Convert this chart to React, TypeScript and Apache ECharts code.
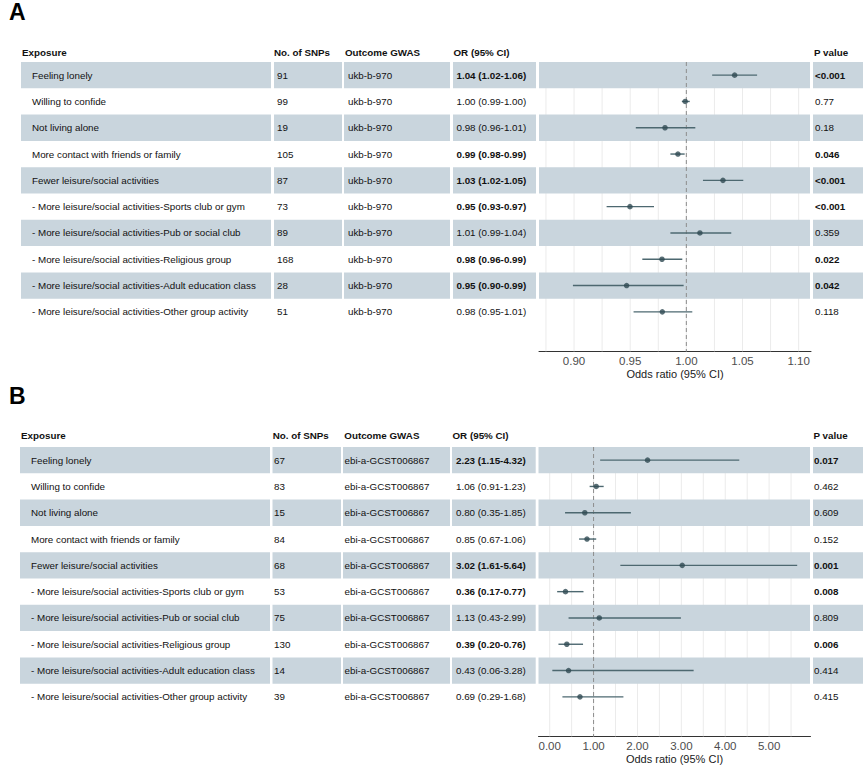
import React, { useEffect, useRef } from "react";
import * as echarts from "echarts";

// ---------- data ----------
const exposures = [
  "Feeling lonely",
  "Willing to confide",
  "Not living alone",
  "More contact with friends or family",
  "Fewer leisure/social activities",
  "- More leisure/social activities-Sports club or gym",
  "- More leisure/social activities-Pub or social club",
  "- More leisure/social activities-Religious group",
  "- More leisure/social activities-Adult education class",
  "- More leisure/social activities-Other group activity",
];

// Panel A
const snpsA = [91, 99, 19, 105, 87, 73, 89, 168, 28, 51];
const gwasA = "ukb-b-970";
const orLabelsA = [
  "1.04 (1.02-1.06)",
  "1.00 (0.99-1.00)",
  "0.98 (0.96-1.01)",
  "0.99 (0.98-0.99)",
  "1.03 (1.02-1.05)",
  "0.95 (0.93-0.97)",
  "1.01 (0.99-1.04)",
  "0.98 (0.96-0.99)",
  "0.95 (0.90-0.99)",
  "0.98 (0.95-1.01)",
];
const pLabelsA = ["<0.001", "0.77", "0.18", "0.046", "<0.001", "<0.001", "0.359", "0.022", "0.042", "0.118"];
const orA = [1.043, 0.999, 0.981, 0.9925, 1.0326, 0.9498, 1.0121, 0.9783, 0.9468, 0.9786];
const loA = [1.023, 0.996, 0.955, 0.9858, 1.0148, 0.929, 0.9858, 0.9608, 0.899, 0.953];
const hiA = [1.063, 1.003, 1.008, 0.9985, 1.0507, 0.9712, 1.04, 0.9964, 0.9976, 1.0053];
const ticksA = [0.9, 0.95, 1.0, 1.05, 1.1];
const gridLinesA = [0.875, 0.9, 0.925, 0.95, 0.975, 1.0, 1.025, 1.05, 1.075, 1.1];

// Panel B
const snpsB = [67, 83, 15, 84, 68, 53, 75, 130, 14, 39];
const gwasB = "ebi-a-GCST006867";
const orLabelsB = [
  "2.23 (1.15-4.32)",
  "1.06 (0.91-1.23)",
  "0.80 (0.35-1.85)",
  "0.85 (0.67-1.06)",
  "3.02 (1.61-5.64)",
  "0.36 (0.17-0.77)",
  "1.13 (0.43-2.99)",
  "0.39 (0.20-0.76)",
  "0.43 (0.06-3.28)",
  "0.69 (0.29-1.68)",
];
const pLabelsB = ["0.017", "0.462", "0.609", "0.152", "0.001", "0.008", "0.809", "0.006", "0.414", "0.415"];
const orB = [2.23, 1.06, 0.8, 0.85, 3.02, 0.36, 1.13, 0.39, 0.43, 0.69];
const loB = [1.15, 0.91, 0.35, 0.67, 1.61, 0.17, 0.43, 0.2, 0.06, 0.29];
const hiB = [4.32, 1.23, 1.85, 1.06, 5.64, 0.77, 2.99, 0.76, 3.28, 1.68];
const ticksB = [0, 1, 2, 3, 4, 5];
const gridLinesB = [0, 0.5, 1, 1.5, 2, 2.5, 3, 3.5, 4, 4.5, 5, 5.5];

const headers = ["Exposure", "No. of SNPs", "Outcome GWAS", "OR (95% CI)", "P value"];
const refValue = 1;
const axisTitle = "Odds ratio (95% CI)";

// ---------- styles / layout ----------
const FONT = "'Liberation Sans', Arial, Helvetica, sans-serif";
const BAND = "#c9d5dd";
const GRIDC = "#ebebeb";
const DOT = "#2f4a52";
const CI = "#4d6870";
const TXT = "#111111";
const FS = 9.8;
const ROWS_TOTAL = 11; // 10 rows + bottom blank row

const panels = [
  {
    letter: "A",
    letterY: 12,
    headerY: 52,
    gridLeft: 539,
    gridTop: 62,
    xMin: 0.8688,
    xMax: 1.111,
    bands: [[21, 271], [274, 342], [344, 450], [453, 536], [539, 810], [813, 863]],
    textX: [32, 277, 348, 456.5, 815],
    headerX: [22, 274, 345, 453.5, 814],
    snps: snpsA, gwas: gwasA, orLabels: orLabelsA, pLabels: pLabelsA,
    or: orA, lo: loA, hi: hiA, ticks: ticksA, gridLines: gridLinesA,
  },
  {
    letter: "B",
    letterY: 396,
    headerY: 435.7,
    gridLeft: 538.5,
    gridTop: 447,
    xMin: -0.255,
    xMax: 5.943,
    bands: [[20, 270], [272.5, 341], [343, 450], [452, 535.7], [538.5, 810], [813, 863]],
    textX: [31, 274, 344.5, 456, 814],
    headerX: [21, 272.7, 344.3, 452.5, 813.5],
    snps: snpsB, gwas: gwasB, orLabels: orLabelsB, pLabels: pLabelsB,
    or: orB, lo: loB, hi: hiB, ticks: ticksB, gridLines: gridLinesB,
  },
];

const isSig = (p: string) => p.startsWith("<") || parseFloat(p) < 0.05;

function buildOption() {
  const grid: any[] = [];
  const xAxis: any[] = [];
  const yAxis: any[] = [];
  const series: any[] = [];
  const graphic: any[] = [];

  panels.forEach((P, pi) => {
    grid.push({ left: P.gridLeft, top: P.gridTop, width: 272, height: 26.3 * ROWS_TOTAL, containLabel: false });
    xAxis.push({
      type: "value",
      gridIndex: pi,
      min: P.xMin,
      max: P.xMax,
      axisLine: { show: true, onZero: false, lineStyle: { color: "#333333", width: 1 } },
      axisTick: { show: false },
      splitLine: { show: false },
      axisLabel: {
        customValues: P.ticks,
        formatter: (v: number) => v.toFixed(2),
        fontSize: 11.5,
        color: "#4d4d4d",
        fontFamily: FONT,
        margin: 4,
      },
      name: axisTitle,
      nameLocation: "middle",
      nameGap: 17,
      nameTextStyle: { fontSize: 11, color: "#1a1a1a", fontFamily: FONT },
    });
    yAxis.push({
      type: "value",
      gridIndex: pi,
      inverse: true,
      min: -0.5,
      max: ROWS_TOTAL - 0.5,
      show: false,
    });

    // vertical grid lines
    series.push({
      type: "custom",
      xAxisIndex: pi,
      yAxisIndex: pi,
      z: 1,
      silent: true,
      data: P.gridLines.map((v) => [v, 0]),
      renderItem: (params: any, api: any) => {
        const v = api.value(0);
        const a = api.coord([v, -0.5]);
        const b = api.coord([v, ROWS_TOTAL - 0.5]);
        return {
          type: "line",
          shape: { x1: a[0], y1: a[1], x2: b[0], y2: b[1] },
          style: { stroke: GRIDC, lineWidth: 1 },
        };
      },
    });

    // table rows: bands + texts
    series.push({
      type: "custom",
      xAxisIndex: pi,
      yAxisIndex: pi,
      z: 2,
      silent: true,
      clip: false,
      data: exposures.map((_, i) => [refValue, i]),
      renderItem: (params: any, api: any) => {
        const i = params.dataIndex;
        const yTop = api.coord([refValue, i - 0.5])[1];
        const yBot = api.coord([refValue, i + 0.5])[1];
        const yMid = (yTop + yBot) / 2;
        const children: any[] = [];
        if (i % 2 === 0) {
          P.bands.forEach((b) => {
            children.push({
              type: "rect",
              shape: { x: b[0], y: yTop, width: b[1] - b[0], height: yBot - yTop },
              style: { fill: BAND },
            });
          });
        }
        const sig = isSig(P.pLabels[i]);
        const cells = [
          { t: exposures[i], bold: false },
          { t: String(P.snps[i]), bold: false },
          { t: P.gwas, bold: false },
          { t: P.orLabels[i], bold: sig },
          { t: P.pLabels[i], bold: sig },
        ];
        cells.forEach((c, k) => {
          children.push({
            type: "text",
            style: {
              text: c.t,
              x: P.textX[k],
              y: yMid,
              align: "left",
              verticalAlign: "middle",
              fontSize: FS,
              fontFamily: FONT,
              fontWeight: c.bold ? "bold" : "normal",
              fill: TXT,
            },
          });
        });
        return { type: "group", children };
      },
    });

    // reference line
    series.push({
      type: "custom",
      xAxisIndex: pi,
      yAxisIndex: pi,
      z: 3,
      silent: true,
      data: [[refValue, 0]],
      renderItem: (params: any, api: any) => {
        const a = api.coord([api.value(0), -0.5]);
        const b = api.coord([api.value(0), ROWS_TOTAL - 0.5]);
        return {
          type: "line",
          shape: { x1: a[0], y1: a[1], x2: b[0], y2: b[1] },
          style: { stroke: "#8c8c8c", lineWidth: 1, lineDash: [4, 3] },
        };
      },
    });

    // confidence intervals
    series.push({
      type: "custom",
      xAxisIndex: pi,
      yAxisIndex: pi,
      z: 4,
      silent: true,
      data: P.lo.map((l, i) => [l, P.hi[i], i]),
      encode: { x: [0, 1], y: 2 },
      renderItem: (params: any, api: any) => {
        const i = api.value(2);
        const a = api.coord([api.value(0), i]);
        const b = api.coord([api.value(1), i]);
        return {
          type: "line",
          shape: { x1: a[0], y1: a[1], x2: b[0], y2: b[1] },
          style: { stroke: CI, lineWidth: 1.4 },
        };
      },
    });

    // point estimates
    series.push({
      type: "scatter",
      xAxisIndex: pi,
      yAxisIndex: pi,
      z: 5,
      silent: true,
      symbol: "circle",
      symbolSize: 5.5,
      itemStyle: { color: DOT },
      data: P.or.map((v, i) => [v, i]),
    });

    // headers + panel letter
    headers.forEach((h, k) => {
      graphic.push({
        type: "text",
        x: P.headerX[k],
        y: P.headerY,
        silent: true,
        style: {
          text: h,
          align: "left",
          verticalAlign: "middle",
          fontSize: FS,
          fontWeight: "bold",
          fontFamily: FONT,
          fill: TXT,
        },
      });
    });
    graphic.push({
      type: "text",
      x: 9,
      y: P.letterY,
      silent: true,
      style: {
        text: P.letter,
        align: "left",
        verticalAlign: "middle",
        fontSize: 23,
        fontWeight: "bold",
        fontFamily: FONT,
        fill: "#000000",
      },
    });
  });

  return {
    animation: false,
    backgroundColor: "#ffffff",
    grid,
    xAxis,
    yAxis,
    series,
    graphic,
  };
}

export default function App() {
  const ref = useRef<HTMLDivElement>(null);
  useEffect(() => {
    if (!ref.current) return;
    const chart = echarts.init(ref.current, undefined, { renderer: "svg" });
    chart.setOption(buildOption() as any);
    return () => chart.dispose();
  }, []);
  return (
    <div
      ref={ref}
      style={{ position: "fixed", left: 0, top: 0, width: 863, height: 773, background: "#fff" }}
    />
  );
}
